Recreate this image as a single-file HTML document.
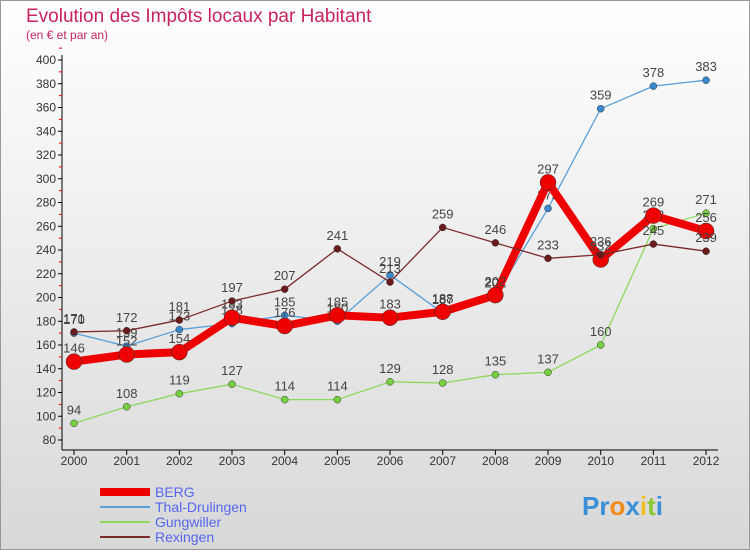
<!DOCTYPE html>
<html><head><meta charset="utf-8"><style>
body{margin:0;width:750px;height:550px;overflow:hidden;font-family:"Liberation Sans",sans-serif}
</style></head><body>
<svg width="750" height="550" xmlns="http://www.w3.org/2000/svg">
<defs><linearGradient id="bg" x1="0" y1="0" x2="0" y2="1"><stop offset="0" stop-color="#ffffff"/><stop offset="1" stop-color="#d8d8d8"/></linearGradient></defs>
<rect x="0.5" y="0.5" width="749" height="549" fill="url(#bg)" stroke="#999"/>
<text x="26" y="22" font-size="19" fill="#c8245a">Evolution des Impôts locaux par Habitant</text>
<text x="26" y="39" font-size="12" fill="#c8245a">(en € et par an)</text>
<g id="axes"></g>
<g id="series"></g>
<g id="legend" font-size="14" fill="#5566ee"></g>
<text x="582" y="515" font-size="26" font-weight="bold"><tspan fill="#3a8fd8">Pr</tspan><tspan fill="#f08a1a">o</tspan><tspan fill="#3a8fd8">x</tspan><tspan fill="#f0c020">i</tspan><tspan fill="#8ac832">t</tspan><tspan fill="#3a8fd8">i</tspan></text>
</svg>
<script>
const years=[2000,2001,2002,2003,2004,2005,2006,2007,2008,2009,2010,2011,2012];
const berg=[146,152,154,183,176,185,183,188,202,297,232,269,256];
const thal=[170,159,173,178,185,180,219,187,201,275,359,378,383];
const gung=[94,108,119,127,114,114,129,128,135,137,160,258,271];
const rex=[171,172,181,197,207,241,213,259,246,233,236,245,239];
const yTicks=[80,100,120,140,160,180,200,220,240,260,280,300,320,340,360,380,400];
const NS="http://www.w3.org/2000/svg";
const x=i=>74+i*52.67;
const y=v=>440-(v-80)*1.1875;
function mk(t,a,p){const e=document.createElementNS(NS,t);for(const k in a)e.setAttribute(k,a[k]);p.appendChild(e);return e;}
const ax=document.getElementById('axes');
const yl=mk('line',{x1:62,y1:55,x2:62,y2:450,stroke:'#000'},ax);


const xl=mk('line',{x1:62,y1:450,x2:718,y2:450,stroke:'#000'},ax);


yTicks.forEach(v=>{
 mk('line',{x1:58,x2:62,y1:y(v),y2:y(v),stroke:'#000'},ax);
 mk('line',{x1:59,x2:62,y1:y(v+10),y2:y(v+10),stroke:'#e00'},ax);
 const t=mk('text',{x:56,y:y(v)+4,'font-size':12,'text-anchor':'end',fill:'#333'},ax);t.textContent=v;
 
 
});
years.forEach((yr,i)=>{
 mk('line',{x1:x(i),x2:x(i),y1:450,y2:455,stroke:'#000'},ax);
 const t=mk('text',{x:x(i),y:465,'font-size':12,'text-anchor':'middle',fill:'#333'},ax);t.textContent=yr;
 
 
});
const sg=document.getElementById('series');
function draw(arr,col,w,r,dot,name){
 const g=mk('g',{},sg);
 
 
 mk('polyline',{points:arr.map((v,i)=>x(i)+','+y(v)).join(' '),fill:'none',stroke:col,'stroke-width':w,'stroke-linejoin':'round'},g);
 arr.forEach((v,i)=>{
  const c=mk('circle',{cx:x(i),cy:y(v),r:r,fill:dot,stroke:'#333','stroke-width':0.5},g);
  
  
  const t=mk('text',{x:x(i),y:y(v)-9,'font-size':13,'text-anchor':'middle',fill:'#444'},g);t.textContent=v;
  
  
 });
}
draw(gung,'#8fd860',1.3,3.5,'#77d040','series-gungwiller');
draw(thal,'#5aa0d8',1.3,3.5,'#3a88cc','series-thal-drulingen');
draw(berg,'#ee0000',8,8,'#ee0000','series-berg');
draw(rex,'#7a2a2a',1.3,3.5,'#6a1a1a','series-rexingen');
const lg=document.getElementById('legend');
[['BERG','#ee0000',8],['Thal-Drulingen','#5aa0d8',2],['Gungwiller','#8fd860',2],['Rexingen','#7a2a2a',2]].forEach((d,i)=>{
 const yy=492+i*15;
 const l=mk('line',{x1:100,x2:150,y1:yy,y2:yy,stroke:d[1],'stroke-width':d[2]},lg);
 
 
 const t=mk('text',{x:155,y:yy+5},lg);t.textContent=d[0];
 
 
});
</script>
</body></html>
